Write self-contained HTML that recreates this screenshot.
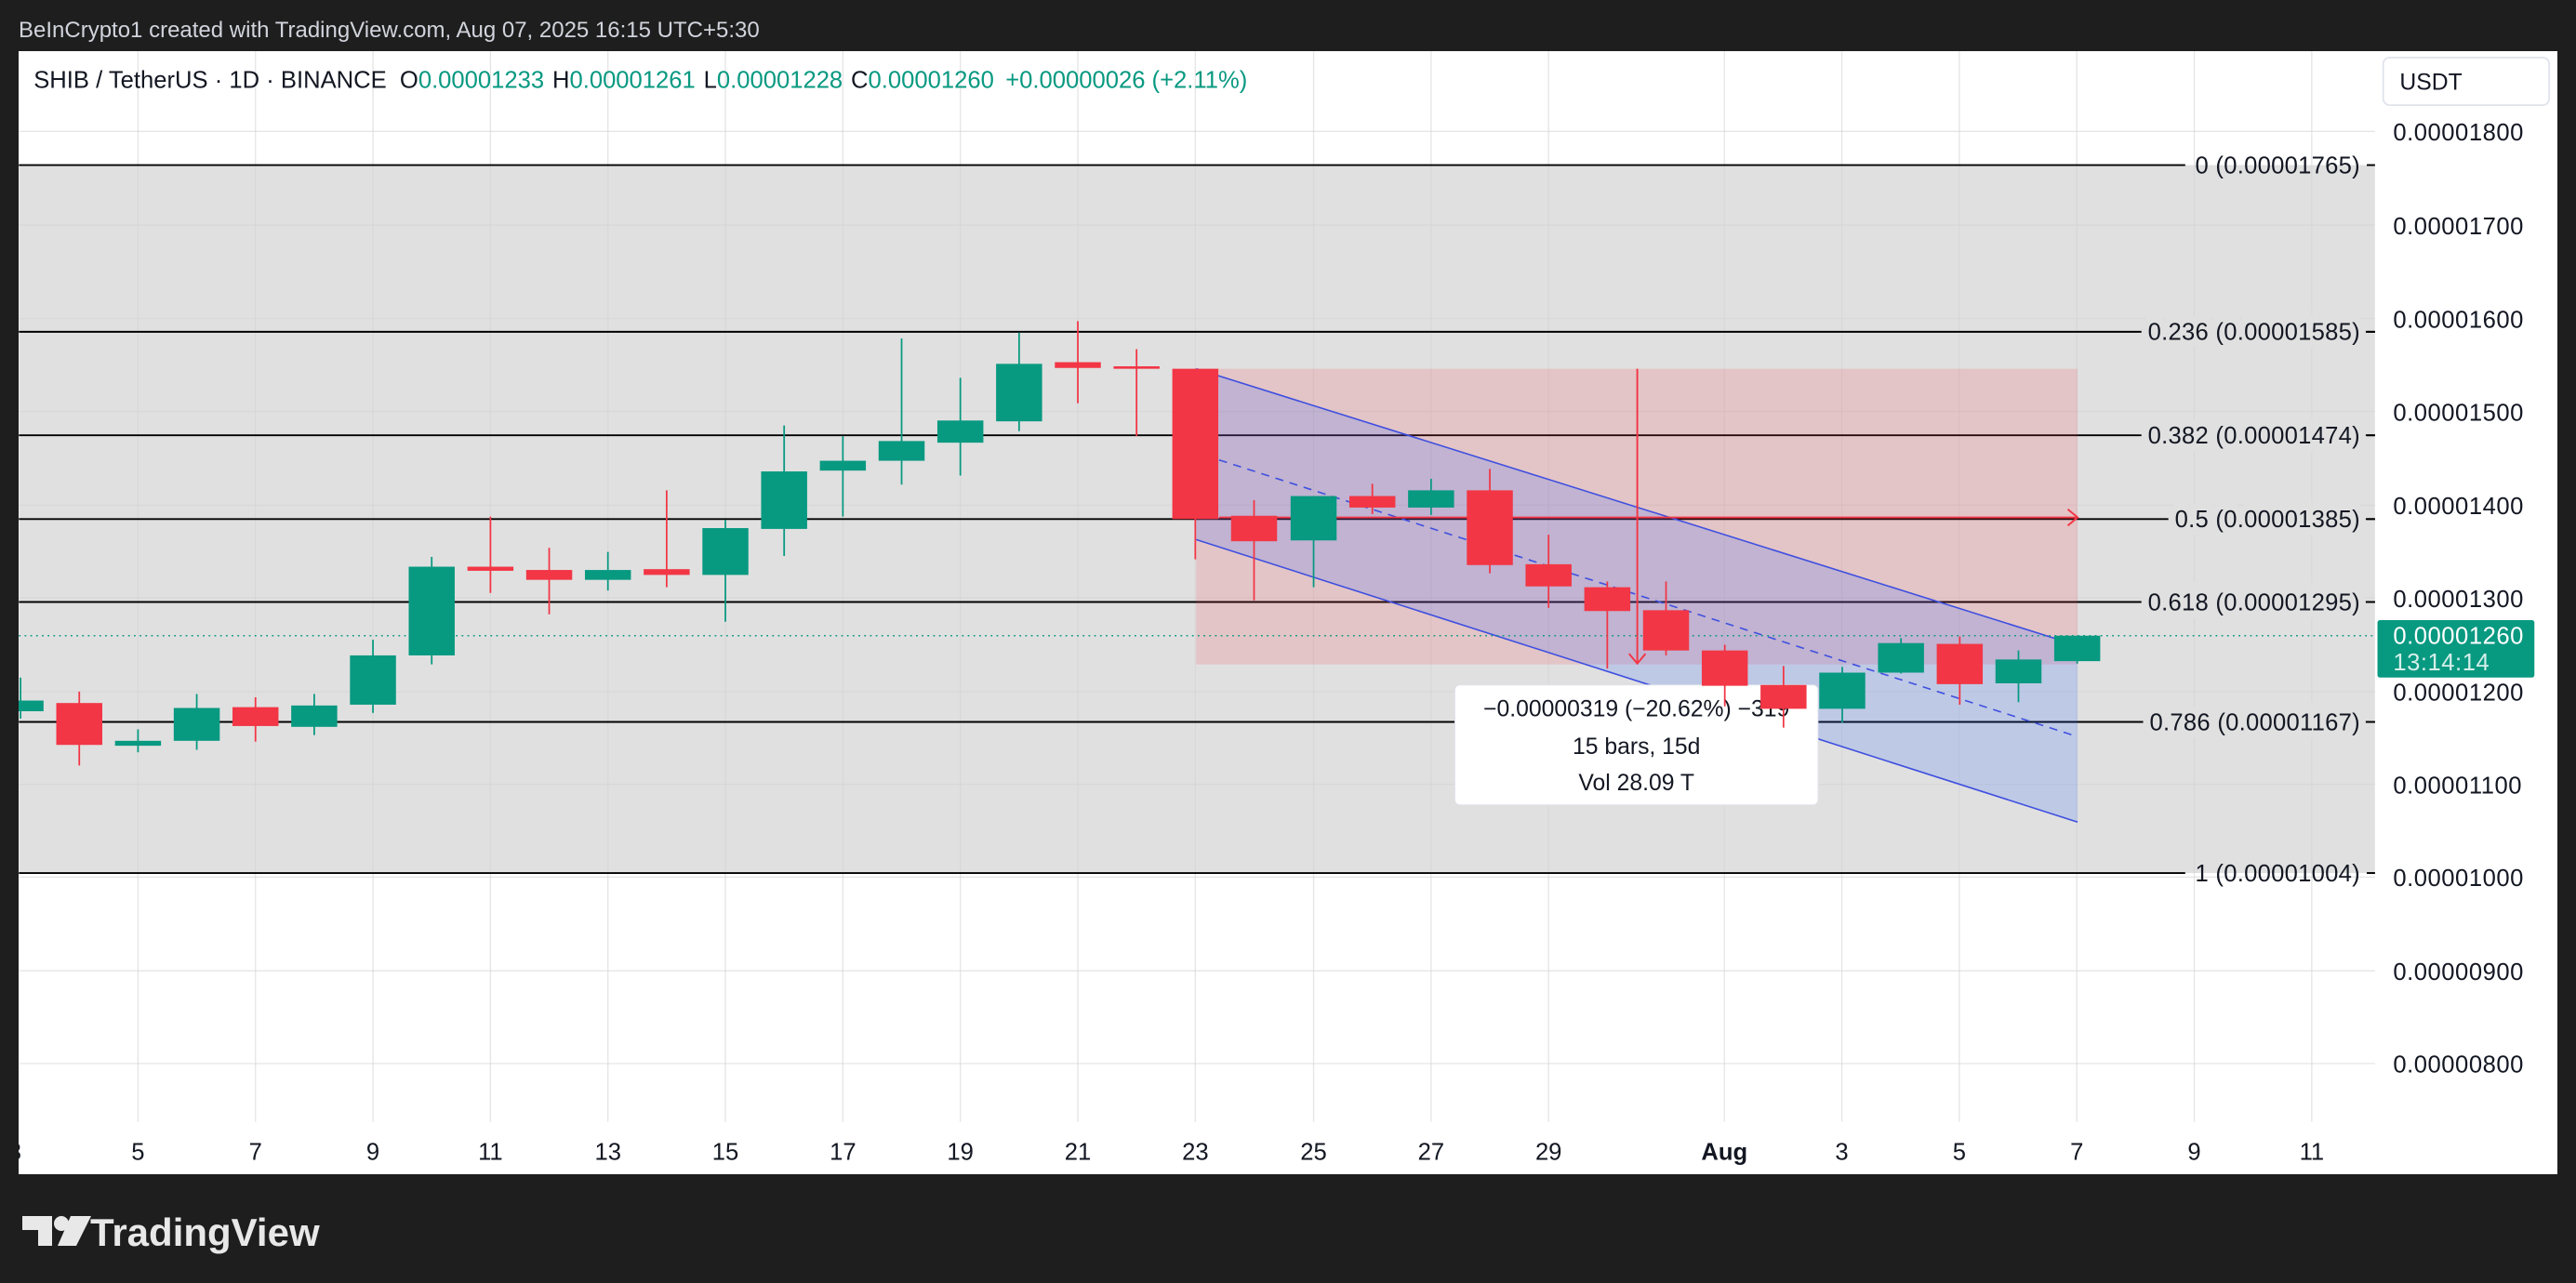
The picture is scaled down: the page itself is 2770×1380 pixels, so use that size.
<!DOCTYPE html>
<html><head><meta charset="utf-8"><style>
html,body{margin:0;padding:0;background:#1e1e1e;}
svg{display:block;font-family:"Liberation Sans",sans-serif;}
</style></head><body>
<svg width="2770" height="1380" viewBox="0 0 2770 1380" xmlns="http://www.w3.org/2000/svg">
<rect x="0" y="0" width="2770" height="1380" fill="#1e1e1e"/>
<rect x="20" y="55" width="2730" height="1208" fill="#ffffff"/>
<g transform="scale(0.88339)">
  <rect x="23" y="201" width="2868" height="862" fill="#e0e0e0"/>
  <g stroke="#d4d4d4" stroke-width="1.5" opacity="0.6">
    <line x1="23" y1="160" x2="2891" y2="160"/><line x1="23" y1="274" x2="2891" y2="274"/>
    <line x1="23" y1="388" x2="2891" y2="388"/><line x1="23" y1="501" x2="2891" y2="501"/>
    <line x1="23" y1="615" x2="2891" y2="615"/><line x1="23" y1="728" x2="2891" y2="728"/>
    <line x1="23" y1="842" x2="2891" y2="842"/><line x1="23" y1="955" x2="2891" y2="955"/>
    <line x1="23" y1="1068" x2="2891" y2="1068"/><line x1="23" y1="1182" x2="2891" y2="1182"/>
    <line x1="23" y1="1295" x2="2891" y2="1295"/>
  </g>
  <g stroke="#d4d4d4" stroke-width="1.5" opacity="0.6">
    <line x1="168" y1="62" x2="168" y2="1366"/><line x1="311" y1="62" x2="311" y2="1366"/>
    <line x1="454" y1="62" x2="454" y2="1366"/><line x1="597" y1="62" x2="597" y2="1366"/>
    <line x1="740" y1="62" x2="740" y2="1366"/><line x1="883" y1="62" x2="883" y2="1366"/>
    <line x1="1026" y1="62" x2="1026" y2="1366"/><line x1="1169" y1="62" x2="1169" y2="1366"/>
    <line x1="1312" y1="62" x2="1312" y2="1366"/><line x1="1455" y1="62" x2="1455" y2="1366"/>
    <line x1="1599" y1="62" x2="1599" y2="1366"/><line x1="1742" y1="62" x2="1742" y2="1366"/>
    <line x1="1885" y1="62" x2="1885" y2="1366"/><line x1="2099" y1="62" x2="2099" y2="1366"/>
    <line x1="2242" y1="62" x2="2242" y2="1366"/><line x1="2385" y1="62" x2="2385" y2="1366"/>
    <line x1="2528" y1="62" x2="2528" y2="1366"/><line x1="2671" y1="62" x2="2671" y2="1366"/>
    <line x1="2814" y1="62" x2="2814" y2="1366"/>
  </g>
  <g stroke="#000" stroke-width="2.2">
    <line x1="23" y1="201" x2="2660" y2="201"/>
    <line x1="23" y1="404" x2="2891" y2="404"/>
    <line x1="23" y1="530" x2="2891" y2="530"/>
    <line x1="23" y1="632" x2="2891" y2="632"/>
    <line x1="23" y1="733" x2="2891" y2="733"/>
    <line x1="23" y1="879" x2="2891" y2="879"/>
    <line x1="23" y1="1063" x2="2660" y2="1063"/>
  </g>
  <rect x="1456" y="449" width="1073" height="360" fill="rgba(242,54,69,0.16)"/>
  <polygon points="1456,449 2529,786 2529,1001 1456,657" fill="rgba(41,98,255,0.18)"/>
  <g stroke="#3f4fe0" stroke-width="1.8" fill="none">
    <line x1="1456" y1="449" x2="2529" y2="786"/>
    <line x1="1456" y1="657" x2="2529" y2="1001"/>
    <line x1="1484" y1="560" x2="2529" y2="897" stroke-dasharray="10,8"/>
  </g>
  <g stroke="#f23645" stroke-width="2.2" fill="none">
    <line x1="1484" y1="630" x2="2529" y2="630"/>
    <polyline points="2517,620 2529,630 2517,640"/>
    <line x1="1993" y1="449" x2="1993" y2="808"/>
    <polyline points="1983,796 1993,808 2003,796"/>
  </g>
  <g font-size="29" fill="#131722" text-anchor="end" letter-spacing="0.3">
    <text x="2873" y="211">0 (0.00001765)</text>
    <text x="2873" y="1073">1 (0.00001004)</text>
  </g>
  <g font-size="29" fill="#131722" text-anchor="end" stroke="#e0e0e0" stroke-width="18" paint-order="stroke" letter-spacing="0.3">
    <text x="2873" y="414">0.236 (0.00001585)</text>
    <text x="2873" y="540">0.382 (0.00001474)</text>
    <text x="2873" y="642">0.5 (0.00001385)</text>
    <text x="2873" y="743">0.618 (0.00001295)</text>
    <text x="2873" y="889">0.786 (0.00001167)</text>
  </g>
  <line x1="23" y1="774" x2="2894" y2="774" stroke="#089981" stroke-width="1.8" stroke-dasharray="2,5"/>
  <rect x="1771" y="834" width="442" height="146" rx="6" fill="#fff" stroke="#e0e3eb" stroke-width="1"/>
  <g font-size="28" fill="#131722" text-anchor="middle">
    <text x="1992" y="872">−0.00000319 (−20.62%) −319</text>
    <text x="1992" y="918">15 bars, 15d</text>
    <text x="1992" y="962">Vol 28.09 T</text>
  </g>
  <g stroke-width="2">
    <g fill="#089981" stroke="#089981">
      <line x1="25" y1="825" x2="25" y2="875"/><rect x="-3" y="853" width="56" height="13" stroke="none"/>
      <line x1="168" y1="888" x2="168" y2="916"/><rect x="140" y="902" width="56" height="6" stroke="none"/>
      <line x1="239.5" y1="845" x2="239.5" y2="913"/><rect x="211.5" y="862" width="56" height="40" stroke="none"/>
      <line x1="382.5" y1="845" x2="382.5" y2="895"/><rect x="354.5" y="859" width="56" height="26" stroke="none"/>
      <line x1="454" y1="779" x2="454" y2="868"/><rect x="426" y="798" width="56" height="60" stroke="none"/>
      <line x1="525.5" y1="678" x2="525.5" y2="809"/><rect x="497.5" y="690" width="56" height="108" stroke="none"/>
      <line x1="740" y1="672" x2="740" y2="719"/><rect x="712" y="694" width="56" height="12" stroke="none"/>
      <line x1="883" y1="633" x2="883" y2="757"/><rect x="855" y="643" width="56" height="57" stroke="none"/>
      <line x1="954.5" y1="518" x2="954.5" y2="677"/><rect x="926.5" y="574" width="56" height="70" stroke="none"/>
      <line x1="1026" y1="531" x2="1026" y2="629"/><rect x="998" y="561" width="56" height="12" stroke="none"/>
      <line x1="1097.5" y1="412" x2="1097.5" y2="590"/><rect x="1069.5" y="537" width="56" height="24" stroke="none"/>
      <line x1="1169" y1="460" x2="1169" y2="579"/><rect x="1141" y="512" width="56" height="27" stroke="none"/>
      <line x1="1240.5" y1="405" x2="1240.5" y2="525"/><rect x="1212.5" y="443" width="56" height="70" stroke="none"/>
      <line x1="1599" y1="604" x2="1599" y2="715"/><rect x="1571" y="604" width="56" height="54" stroke="none"/>
      <line x1="1742" y1="583" x2="1742" y2="627"/><rect x="1714" y="597" width="56" height="21" stroke="none"/>
      <line x1="2242.5" y1="812" x2="2242.5" y2="880"/><rect x="2214.5" y="819" width="56" height="44" stroke="none"/>
      <line x1="2314" y1="777" x2="2314" y2="820"/><rect x="2286" y="783" width="56" height="36" stroke="none"/>
      <line x1="2457" y1="792" x2="2457" y2="855"/><rect x="2429" y="803" width="56" height="29" stroke="none"/>
      <line x1="2528.5" y1="774" x2="2528.5" y2="808"/><rect x="2500.5" y="774" width="56" height="31" stroke="none"/>
    </g>
    <g fill="#f23645" stroke="#f23645">
      <line x1="96.5" y1="842" x2="96.5" y2="932"/><rect x="68.5" y="856" width="56" height="51" stroke="none"/>
      <line x1="311" y1="849" x2="311" y2="903"/><rect x="283" y="861" width="56" height="23" stroke="none"/>
      <line x1="597" y1="629" x2="597" y2="722"/><rect x="569" y="690" width="56" height="5" stroke="none"/>
      <line x1="668.5" y1="667" x2="668.5" y2="748"/><rect x="640.5" y="694" width="56" height="12" stroke="none"/>
      <line x1="811.5" y1="597" x2="811.5" y2="715"/><rect x="783.5" y="693" width="56" height="7" stroke="none"/>
      <line x1="1312" y1="391" x2="1312" y2="491"/><rect x="1284" y="441" width="56" height="7" stroke="none"/>
      <line x1="1383.5" y1="425" x2="1383.5" y2="531"/><rect x="1355.5" y="446" width="56" height="3" stroke="none"/>
      <line x1="1455" y1="449" x2="1455" y2="681"/><rect x="1427" y="449" width="56" height="183" stroke="none"/>
      <line x1="1526.5" y1="609" x2="1526.5" y2="731"/><rect x="1498.5" y="628" width="56" height="31" stroke="none"/>
      <line x1="1670.5" y1="589" x2="1670.5" y2="626"/><rect x="1642.5" y="604" width="56" height="14" stroke="none"/>
      <line x1="1813.5" y1="571" x2="1813.5" y2="698"/><rect x="1785.5" y="597" width="56" height="91" stroke="none"/>
      <line x1="1885" y1="651" x2="1885" y2="740"/><rect x="1857" y="687" width="56" height="27" stroke="none"/>
      <line x1="1956.5" y1="708" x2="1956.5" y2="814"/><rect x="1928.5" y="715" width="56" height="29" stroke="none"/>
      <line x1="2028" y1="708" x2="2028" y2="798"/><rect x="2000" y="743" width="56" height="49" stroke="none"/>
      <line x1="2099.5" y1="785" x2="2099.5" y2="860"/><rect x="2071.5" y="792" width="56" height="43" stroke="none"/>
      <line x1="2171" y1="811" x2="2171" y2="886"/><rect x="2143" y="834" width="56" height="29" stroke="none"/>
      <line x1="2385.5" y1="775" x2="2385.5" y2="858"/><rect x="2357.5" y="784" width="56" height="49" stroke="none"/>
    </g>
  </g>
  <rect x="2891" y="62" width="222" height="1368" fill="#fff"/>
  <g stroke="#000" stroke-width="2.2">
    <line x1="2881" y1="201" x2="2891" y2="201"/><line x1="2881" y1="404" x2="2891" y2="404"/>
    <line x1="2881" y1="530" x2="2891" y2="530"/><line x1="2881" y1="632" x2="2891" y2="632"/>
    <line x1="2881" y1="733" x2="2891" y2="733"/><line x1="2881" y1="879" x2="2891" y2="879"/>
    <line x1="2881" y1="1063" x2="2891" y2="1063"/>
  </g>
  <g font-size="29" fill="#131722" letter-spacing="0.6">
    <text x="2913" y="171">0.00001800</text><text x="2913" y="285">0.00001700</text>
    <text x="2913" y="399">0.00001600</text><text x="2913" y="512">0.00001500</text>
    <text x="2913" y="626">0.00001400</text><text x="2913" y="739">0.00001300</text>
    <text x="2913" y="853">0.00001200</text><text x="2913" y="966">0.00001100</text>
    <text x="2913" y="1079">0.00001000</text><text x="2913" y="1193">0.00000900</text>
    <text x="2913" y="1306">0.00000800</text>
  </g>
  <rect x="2901" y="70" width="202" height="58" rx="8" fill="#fff" stroke="#e0e3eb" stroke-width="2"/>
  <text x="2921" y="109" font-size="28" fill="#131722">USDT</text>
  <rect x="2894" y="755" width="191" height="70" rx="3" fill="#089981"/>
  <text x="2913" y="784" font-size="29" fill="#fff" letter-spacing="0.6">0.00001260</text>
  <text x="2913" y="816" font-size="29" fill="#d4efe9" letter-spacing="0.6">13:14:14</text>
  <g font-size="29" fill="#131722" text-anchor="middle">
    <text x="18" y="1412">3</text><text x="168" y="1412">5</text><text x="311" y="1412">7</text>
    <text x="454" y="1412">9</text><text x="597" y="1412">11</text><text x="740" y="1412">13</text>
    <text x="883" y="1412">15</text><text x="1026" y="1412">17</text><text x="1169" y="1412">19</text>
    <text x="1312" y="1412">21</text><text x="1455" y="1412">23</text><text x="1599" y="1412">25</text>
    <text x="1742" y="1412">27</text><text x="1885" y="1412">29</text>
    <text x="2099" y="1412" font-weight="bold">Aug</text><text x="2242" y="1412">3</text>
    <text x="2385" y="1412">5</text><text x="2528" y="1412">7</text><text x="2671" y="1412">9</text>
    <text x="2814" y="1412">11</text>
  </g>
  <text x="41" y="107" font-size="29" fill="#131722">SHIB / TetherUS · 1D · BINANCE <tspan dx="8">O</tspan><tspan fill="#089981">0.00001233</tspan><tspan dx="10">H</tspan><tspan fill="#089981">0.00001261</tspan><tspan dx="10">L</tspan><tspan fill="#089981">0.00001228</tspan><tspan dx="10">C</tspan><tspan fill="#089981">0.00001260</tspan><tspan dx="14" fill="#089981">+0.00000026 (+2.11%)</tspan></text>
</g>
<rect x="0" y="0" width="2770" height="55" fill="#1e1e1e"/>
<rect x="0" y="0" width="20" height="1380" fill="#1e1e1e"/>
<rect x="0" y="1263" width="2770" height="117" fill="#1e1e1e"/>
<rect x="2750" y="0" width="20" height="1380" fill="#1e1e1e"/>
<text x="20" y="40" font-size="24" fill="#d1d4dc">BeInCrypto1 created with TradingView.com, Aug 07, 2025 16:15 UTC+5:30</text>
<g fill="#e8e8e8">
  <path d="M24 1308 h32 v32 h-15 v-17 h-17 z"/>
  <circle cx="66" cy="1316" r="8"/>
  <path d="M76 1308 h22 l-16 32 h-20 z"/>
</g>
<text x="97" y="1340" font-size="42" font-weight="bold" fill="#e8e8e8">TradingView</text>
</svg>
</body></html>
